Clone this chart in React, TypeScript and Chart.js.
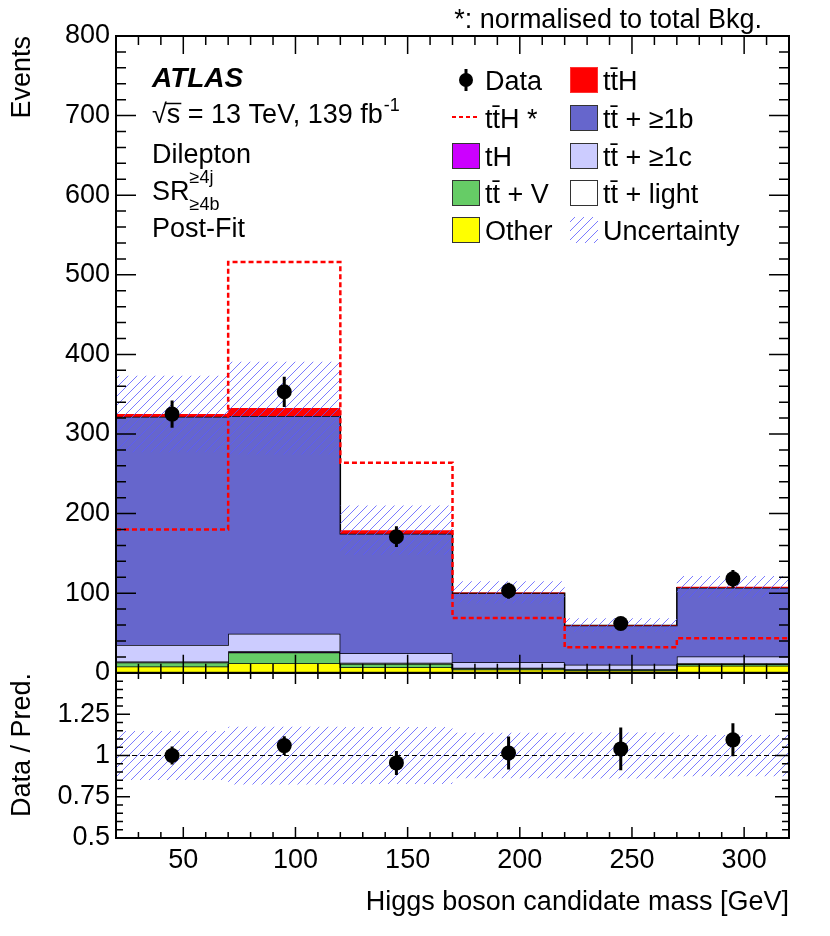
import { useEffect, useRef } from "react";
import { Chart, registerables } from "chart.js";
import type { Plugin } from "chart.js";

Chart.register(...registerables);

// ---- data ----
const binEdges = [20, 70, 120, 170, 220, 270, 320];
const binCentres = [45, 95, 145, 195, 245, 295];

const other = [8, 12, 7, 4, 3, 9];
const ttV = [5, 13.5, 4.5, 1.5, 1, 2];
const tH = [0.3, 0.5, 0.3, 0.2, 0.1, 0.2];
const ttLight = [1, 1, 0.7, 0.5, 0.5, 1];
const ttC = [20.7, 22, 12.2, 7.2, 5.4, 8.3];
const ttB = [286.6, 273.6, 150, 86.6, 49.5, 86.5];
const ttH = [3.5, 10, 4.5, 1, 0.5, 1];

const ttHStar = [180, 516, 264, 69, 32, 43.5];
const dataVals = [325, 353, 171, 103, 62, 118];
const dataErr = [17, 19, 13, 10, 8, 11];
const uncRel = [0.148, 0.175, 0.172, 0.138, 0.14, 0.125];

const ratioVals = [1.0, 1.06, 0.955, 1.015, 1.04, 1.095];
const ratioErr = [0.055, 0.057, 0.073, 0.1, 0.13, 0.1];

const xTicks = [50, 100, 150, 200, 250, 300];
const yTicksMain = [0, 100, 200, 300, 400, 500, 600, 700, 800];
const yTicksRatio = [0.5, 0.75, 1, 1.25];

// ---- styling ----
const FONT = '"Liberation Sans", Arial, Helvetica, sans-serif';
const stackLabels = ["Other", "tt\u0304 + V", "tH", "tt\u0304 + light", "tt\u0304 + \u22651c", "tt\u0304 + \u22651b", "tt\u0304H"];
const stackColors = ["#ffff00", "#66cc66", "#cc00ff", "#ffffff", "#ccccff", "#6666cc", "#ff0000"];
const stackBorders = [1.5, 1.5, 1.5, 1.5, 1.5, 1.5, 0];
const hatchColor = "rgba(90,90,255,0.8)";

const stackParts = [other, ttV, tH, ttLight, ttC, ttB, ttH];
const cumulative = stackParts.map((_, k) =>
    binCentres.map((_, i) => stackParts.slice(0, k + 1).reduce((s, arr) => s + arr[i], 0))
);
const total = cumulative[cumulative.length - 1];

const stepPoints = (vals: number[]) =>
    binEdges.map((x, i) => ({ x, y: vals[Math.min(i, vals.length - 1)] }));

function makeHatch(): CanvasPattern | string {
    const size = 9;
    const c = document.createElement("canvas");
    c.width = size;
    c.height = size;
    const g = c.getContext("2d");
    if (!g) return "rgba(80,80,255,0.3)";
    g.strokeStyle = hatchColor;
    g.lineWidth = 1;
    g.beginPath();
    g.moveTo(0, size);
    g.lineTo(size, 0);
    g.moveTo(-2, 2);
    g.lineTo(2, -2);
    g.moveTo(size - 2, size + 2);
    g.lineTo(size + 2, size - 2);
    g.stroke();
    return g.createPattern(c, "repeat") ?? "rgba(80,80,255,0.3)";
}

type TickSpec = {
    xMinor: number;
    xMajor: number;
    yMinor: number;
    yMajor: number;
    xLen: [number, number];
    yLen: [number, number];
};

const isMultiple = (v: number, step: number) => Math.abs(v / step - Math.round(v / step)) < 1e-6;

function framePlugin(spec: TickSpec): Plugin<"line"> {
    return {
        id: "rootFrame",
        afterDatasetsDraw(chart) {
            const { ctx, chartArea: a } = chart;
            const sx = chart.scales.x;
            const sy = chart.scales.y;
            ctx.save();
            ctx.strokeStyle = "#000";
            ctx.lineWidth = 1.5;
            ctx.beginPath();
            const nx = Math.round((sx.max - sx.min) / spec.xMinor);
            for (let n = 0; n <= nx; n++) {
                const v = sx.min + n * spec.xMinor;
                const px = sx.getPixelForValue(v);
                const len = isMultiple(v, spec.xMajor) ? spec.xLen[0] : spec.xLen[1];
                ctx.moveTo(px, a.bottom);
                ctx.lineTo(px, a.bottom - len);
                ctx.moveTo(px, a.top);
                ctx.lineTo(px, a.top + len);
            }
            const ny = Math.round((sy.max - sy.min) / spec.yMinor);
            for (let n = 0; n <= ny; n++) {
                const v = sy.min + n * spec.yMinor;
                const py = sy.getPixelForValue(v);
                const len = isMultiple(v, spec.yMajor) ? spec.yLen[0] : spec.yLen[1];
                ctx.moveTo(a.left, py);
                ctx.lineTo(a.left + len, py);
                ctx.moveTo(a.right, py);
                ctx.lineTo(a.right - len, py);
            }
            ctx.stroke();
            ctx.lineWidth = 2;
            ctx.strokeRect(a.left, a.top, a.right - a.left, a.bottom - a.top);
            ctx.restore();
        },
    };
}

function errorBarPlugin(datasetIndex: number, errs: number[]): Plugin<"line"> {
    return {
        id: "errorBars",
        afterDatasetsDraw(chart) {
            const { ctx } = chart;
            const sy = chart.scales.y;
            const meta = chart.getDatasetMeta(datasetIndex);
            const pts = chart.data.datasets[datasetIndex].data as { x: number; y: number }[];
            ctx.save();
            ctx.strokeStyle = "#000";
            ctx.lineWidth = 3;
            ctx.beginPath();
            meta.data.forEach((el, i) => {
                ctx.moveTo(el.x, sy.getPixelForValue(pts[i].y + errs[i]));
                ctx.lineTo(el.x, sy.getPixelForValue(pts[i].y - errs[i]));
            });
            ctx.stroke();
            ctx.restore();
        },
    };
}

function textPlugin(hatch: CanvasPattern | string): Plugin<"line"> {
    return {
        id: "labels",
        afterDraw(chart) {
            const { ctx } = chart;
            ctx.save();
            ctx.fillStyle = "#000";
            ctx.textBaseline = "alphabetic";

            ctx.font = `27px ${FONT}`;
            ctx.textAlign = "right";
            ctx.fillText("*: normalised to total Bkg.", 762, 28);
            ctx.textAlign = "left";

            ctx.font = `italic bold 28px ${FONT}`;
            ctx.fillText("ATLAS", 152, 87);

            ctx.font = `27px ${FONT}`;
            const lumi = "\u221as = 13 TeV, 139 fb";
            ctx.fillText(lumi, 152, 123);
            const lw = ctx.measureText(lumi).width;
            const rootW = ctx.measureText("\u221a").width;
            const sW = ctx.measureText("\u221as").width;
            ctx.lineWidth = 1.5;
            ctx.strokeStyle = "#000";
            ctx.beginPath();
            ctx.moveTo(152 + rootW - 1, 103.5);
            ctx.lineTo(152 + sW + 1, 103.5);
            ctx.stroke();
            ctx.fillText("Dilepton", 152, 162.5);
            ctx.fillText("SR", 152, 200);
            const srW = ctx.measureText("SR").width;
            ctx.fillText("Post-Fit", 152, 237);
            ctx.font = `18px ${FONT}`;
            ctx.fillText("-1", 152 + lw + 1, 111);
            ctx.fillText("\u22654j", 152 + srW, 183);
            ctx.fillText("\u22654b", 152 + srW, 210);

            // legend
            const rows = [80, 118, 156, 193, 230];
            const box = (x: number, yc: number, fill: string, stroke: string) => {
                ctx.fillStyle = fill;
                ctx.fillRect(x, yc - 13, 28, 26);
                ctx.strokeStyle = stroke;
                ctx.lineWidth = 1;
                ctx.strokeRect(x + 0.5, yc - 12.5, 27, 25);
            };
            // data marker
            ctx.fillStyle = "#000";
            ctx.strokeStyle = "#000";
            ctx.lineWidth = 3;
            ctx.beginPath();
            ctx.moveTo(466, rows[0] - 11);
            ctx.lineTo(466, rows[0] + 11);
            ctx.stroke();
            ctx.beginPath();
            ctx.arc(466, rows[0], 7, 0, Math.PI * 2);
            ctx.fill();
            // ttH* dashed
            ctx.strokeStyle = "#ff0000";
            ctx.lineWidth = 2;
            ctx.setLineDash([4, 3]);
            ctx.beginPath();
            ctx.moveTo(452, rows[1] - 1);
            ctx.lineTo(480, rows[1] - 1);
            ctx.stroke();
            ctx.setLineDash([]);
            box(452, rows[2], stackColors[2], "#333");
            box(452, rows[3], stackColors[1], "#333");
            box(452, rows[4], stackColors[0], "#333");
            box(570, rows[0], stackColors[6], "#ff3333");
            box(570, rows[1], stackColors[5], "#333");
            box(570, rows[2], stackColors[4], "#333");
            box(570, rows[3], stackColors[3], "#333");
            ctx.fillStyle = hatch;
            ctx.fillRect(570, rows[4] - 13, 28, 26);

            ctx.fillStyle = "#000";
            ctx.font = `27px ${FONT}`;
            const col1 = ["Data", "tt\u0304H *", stackLabels[2], stackLabels[1], stackLabels[0]];
            const col2 = [stackLabels[6], stackLabels[5], stackLabels[4], stackLabels[3], "Uncertainty"];
            rows.forEach((yc, i) => {
                ctx.fillText(col1[i], 485, yc + 9.5);
                ctx.fillText(col2[i], 603, yc + 9.5);
            });
            ctx.restore();
        },
    };
}

export default function App() {
    const mainRef = useRef<HTMLCanvasElement | null>(null);
    const ratioRef = useRef<HTMLCanvasElement | null>(null);

    useEffect(() => {
        const mainCanvas = mainRef.current;
        const ratioCanvas = ratioRef.current;
        if (!mainCanvas || !ratioCanvas) {
            return;
        }
        Chart.defaults.font.family = FONT;
        Chart.defaults.color = "#000";
        const hatch = makeHatch();

        const stackSets = cumulative.map((vals, k) => ({
            label: stackLabels[k],
            data: stepPoints(vals),
            backgroundColor: stackColors[k],
            borderColor: "#000",
            borderWidth: stackBorders[k],
            fill: k === 0 ? "origin" : "-1",
            stepped: true,
            pointRadius: 0,
            order: 20 - k,
        }));

        const main = new Chart(mainCanvas, {
            type: "line",
            data: {
                datasets: [
                    ...stackSets,
                    {
                        label: "unc-lo",
                        data: stepPoints(total.map((t, i) => t * (1 - uncRel[i]))),
                        borderWidth: 0,
                        fill: false,
                        stepped: true,
                        pointRadius: 0,
                        order: 3,
                    },
                    {
                        label: "Uncertainty",
                        data: stepPoints(total.map((t, i) => t * (1 + uncRel[i]))),
                        borderWidth: 0,
                        backgroundColor: hatch,
                        fill: "-1",
                        stepped: true,
                        pointRadius: 0,
                        order: 2,
                    },
                    {
                        label: "ttH *",
                        data: stepPoints(ttHStar),
                        borderColor: "#ff0000",
                        borderWidth: 2.5,
                        borderDash: [5, 3],
                        fill: false,
                        stepped: true,
                        pointRadius: 0,
                        order: 1,
                    },
                    {
                        label: "Data",
                        data: binCentres.map((x, i) => ({ x, y: dataVals[i] })),
                        showLine: false,
                        pointRadius: 7.5,
                        pointBackgroundColor: "#000",
                        pointBorderWidth: 0,
                        order: 0,
                    },
                ],
            },
            options: {
                responsive: false,
                animation: false,
                events: [],
                layout: { padding: { top: 36, right: 41, bottom: 22, left: 0 } },
                scales: {
                    x: { type: "linear", min: 20, max: 320, display: false },
                    y: {
                        type: "linear",
                        min: 0,
                        max: 800,
                        grid: { display: false, drawTicks: false },
                        border: { display: false },
                        afterBuildTicks: (scale) => {
                            scale.ticks = yTicksMain.map((value) => ({ value }));
                        },
                        afterFit: (scale) => {
                            scale.width = 116;
                        },
                        ticks: { font: { size: 27 }, color: "#000", padding: 6, callback: (v) => String(v) },
                        title: {
                            display: true,
                            text: "Events",
                            align: "end",
                            font: { size: 27 },
                            color: "#000",
                            padding: { top: 6, bottom: 0 },
                        },
                    },
                },
                plugins: { legend: { display: false }, tooltip: { enabled: false } },
            },
            plugins: [
                errorBarPlugin(10, dataErr),
                framePlugin({ xMinor: 10, xMajor: 50, yMinor: 20, yMajor: 100, xLen: [18, 9], yLen: [20, 10] }),
                textPlugin(hatch),
            ],
        });

        const ratio = new Chart(ratioCanvas, {
            type: "line",
            data: {
                datasets: [
                    {
                        label: "unc-lo",
                        data: stepPoints(uncRel.map((u) => 1 - u)),
                        borderWidth: 0,
                        fill: false,
                        stepped: true,
                        pointRadius: 0,
                        order: 3,
                    },
                    {
                        label: "Uncertainty",
                        data: stepPoints(uncRel.map((u) => 1 + u)),
                        borderWidth: 0,
                        backgroundColor: hatch,
                        fill: "-1",
                        stepped: true,
                        pointRadius: 0,
                        order: 2,
                    },
                    {
                        label: "unity",
                        data: [
                            { x: binEdges[0], y: 1 },
                            { x: binEdges[binEdges.length - 1], y: 1 },
                        ],
                        borderColor: "#000",
                        borderWidth: 1,
                        borderDash: [5, 3],
                        fill: false,
                        pointRadius: 0,
                        order: 1,
                    },
                    {
                        label: "Data / Pred.",
                        data: binCentres.map((x, i) => ({ x, y: ratioVals[i] })),
                        showLine: false,
                        pointRadius: 7.5,
                        pointBackgroundColor: "#000",
                        pointBorderWidth: 0,
                        order: 0,
                    },
                ],
            },
            options: {
                responsive: false,
                animation: false,
                events: [],
                layout: { padding: { top: 23, right: 41, bottom: 0, left: 0 } },
                scales: {
                    x: {
                        type: "linear",
                        min: 20,
                        max: 320,
                        grid: { display: false, drawTicks: false },
                        border: { display: false },
                        afterBuildTicks: (scale) => {
                            scale.ticks = xTicks.map((value) => ({ value }));
                        },
                        afterFit: (scale) => {
                            scale.height = 98;
                        },
                        ticks: { font: { size: 27 }, color: "#000", padding: 6, maxRotation: 0, callback: (v) => String(v) },
                        title: {
                            display: true,
                            text: "Higgs boson candidate mass [GeV]",
                            align: "end",
                            font: { size: 27 },
                            color: "#000",
                            padding: { top: 0, bottom: 17 },
                        },
                    },
                    y: {
                        type: "linear",
                        min: 0.5,
                        max: 1.5,
                        grid: { display: false, drawTicks: false },
                        border: { display: false },
                        afterBuildTicks: (scale) => {
                            scale.ticks = yTicksRatio.map((value) => ({ value }));
                        },
                        afterFit: (scale) => {
                            scale.width = 116;
                        },
                        ticks: { font: { size: 27 }, color: "#000", padding: 6, callback: (v) => String(v) },
                        title: {
                            display: true,
                            text: "Data / Pred.",
                            align: "end",
                            font: { size: 27 },
                            color: "#000",
                            padding: { top: 6, bottom: 0 },
                        },
                    },
                },
                plugins: { legend: { display: false }, tooltip: { enabled: false } },
            },
            plugins: [
                errorBarPlugin(3, ratioErr),
                framePlugin({ xMinor: 10, xMajor: 50, yMinor: 0.05, yMajor: 0.25, xLen: [11, 6], yLen: [14, 7] }),
            ],
        });

        return () => {
            main.destroy();
            ratio.destroy();
        };
    }, []);

    return (
        <div style={{ position: "absolute", left: 0, top: 0, width: 830, height: 936, background: "#fff" }}>
            <canvas ref={mainRef} width={830} height={695} style={{ position: "absolute", left: 0, top: 0 }} />
            <canvas ref={ratioRef} width={830} height={286} style={{ position: "absolute", left: 0, top: 650 }} />
        </div>
    );
}
